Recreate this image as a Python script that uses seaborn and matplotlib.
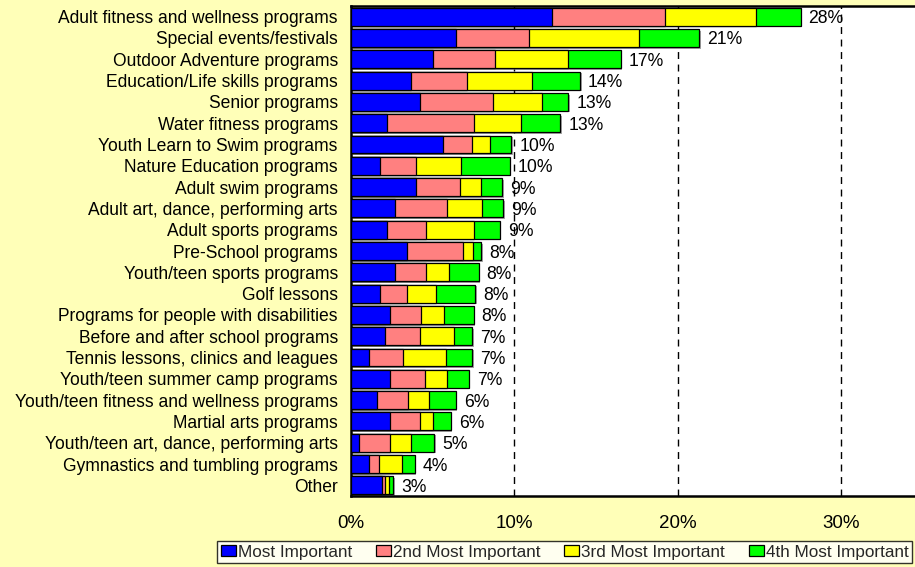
import numpy as np
import matplotlib
matplotlib.use("Agg")
import matplotlib.pyplot as plt
import matplotlib.patheffects as pe
from matplotlib.patches import Patch
import seaborn as sns

programs = [
    "Adult fitness and wellness programs", "Special events/festivals",
    "Outdoor Adventure programs", "Education/Life skills programs",
    "Senior programs", "Water fitness programs", "Youth Learn to Swim programs",
    "Nature Education programs", "Adult swim programs",
    "Adult art, dance, performing arts", "Adult sports programs",
    "Pre-School programs", "Youth/teen sports programs", "Golf lessons",
    "Programs for people with disabilities", "Before and after school programs",
    "Tennis lessons, clinics and leagues", "Youth/teen summer camp programs",
    "Youth/teen fitness and wellness programs", "Martial arts programs",
    "Youth/teen art, dance, performing arts", "Gymnastics and tumbling programs",
    "Other",
]
most = [12.3, 6.4, 5.0, 3.7, 4.2, 2.2, 5.6, 1.8, 4.0, 2.7, 2.2, 3.4,
        2.7, 1.8, 2.4, 2.1, 1.1, 2.4, 1.6, 2.4, 0.5, 1.1, 1.9]
second = [6.9, 4.5, 3.8, 3.4, 4.5, 5.3, 1.8, 2.2, 2.65, 3.2, 2.4, 3.45,
          1.9, 1.6, 1.9, 2.1, 2.1, 2.1, 1.9, 1.8, 1.9, 0.6, 0.2]
third = [5.6, 6.7, 4.5, 4.0, 3.0, 2.9, 1.1, 2.7, 1.33, 2.1, 2.9, 0.6,
         1.4, 1.8, 1.4, 2.1, 2.6, 1.4, 1.3, 0.8, 1.3, 1.4, 0.2]
fourth = [2.7, 3.7, 3.2, 2.9, 1.6, 2.4, 1.3, 3.0, 1.28, 1.3, 1.6, 0.5,
          1.8, 2.4, 1.8, 1.1, 1.6, 1.3, 1.6, 1.1, 1.4, 0.8, 0.3]
total_labels = ["28%", "21%", "17%", "14%", "13%", "13%", "10%", "10%", "9%",
                "9%", "9%", "8%", "8%", "8%", "8%", "7%", "7%", "7%", "6%",
                "6%", "5%", "4%", "3%"]
series_names = ["Most Important", "2nd Most Important",
                "3rd Most Important", "4th Most Important"]
colors = ["#0000FF", "#FF8080", "#FFFF00", "#00FF00"]
x_ticks = [0, 10, 20, 30]

sns.set_theme(style="white")
plt.rcParams["font.family"] = ["Liberation Sans", "DejaVu Sans"]

BG = "#FFFFB8"
fig = plt.figure(figsize=(9.15, 5.67), dpi=100, facecolor=BG)
ax = fig.add_axes([0.3836, 0.1252, 0.6164, 0.8642])
ax.set_facecolor("white")

segs = np.array([most, second, third, fourth])
cums = np.cumsum(segs, axis=0)

for x in x_ticks[1:]:
    ax.axvline(x, color="black", lw=1, ls=(0, (5, 4)), zorder=0)

# draw cumulative bars from largest to smallest so they stack visually
for i in range(3, -1, -1):
    sns.barplot(x=cums[i], y=programs, orient="h", color=colors[i],
                saturation=1, width=0.84, edgecolor="black", linewidth=0.9,
                ax=ax, zorder=2 + (3 - i))
    if i == 3:
        for bar in ax.patches:
            bar.set_path_effects([pe.SimplePatchShadow(offset=(1.2, -1.2),
                                                       shadow_rgbFace="#808080",
                                                       alpha=0.7), pe.Normal()])

for j, lab in enumerate(total_labels):
    ax.annotate(lab, (cums[3][j], j), xytext=(5.8, 0), textcoords="offset points",
                va="center_baseline", ha="left", fontsize=12.7, color="black",
                zorder=10)

ax.set_xlim(0, 34.5)
ax.set_xticks(x_ticks)
ax.set_xticklabels([f"{t}%" for t in x_ticks])
ax.set_xlabel("")
ax.set_ylabel("")
ax.tick_params(axis="x", length=0, pad=14, labelsize=13.5, colors="black")
ax.tick_params(axis="y", length=0, pad=9.5, labelsize=12.65, colors="black")
for side in ["left", "top", "bottom"]:
    ax.spines[side].set_visible(True)
    ax.spines[side].set_color("black")
    ax.spines[side].set_linewidth(1.8)
ax.spines["right"].set_visible(False)

handles = [Patch(facecolor=c, edgecolor="black", linewidth=0.9) for c in colors]
leg = fig.legend(handles, series_names, loc="lower right",
                 bbox_to_anchor=(0.997, 0.007), ncol=4, fontsize=12.3,
                 frameon=True, fancybox=False, edgecolor="black",
                 handlelength=0.88, handleheight=0.6, handletextpad=0.12,
                 columnspacing=1.4, borderpad=0.2, borderaxespad=0)
leg.get_frame().set_linewidth(1)
leg.get_frame().set_facecolor("white")

fig.savefig("out.png", dpi=100, facecolor=BG)
